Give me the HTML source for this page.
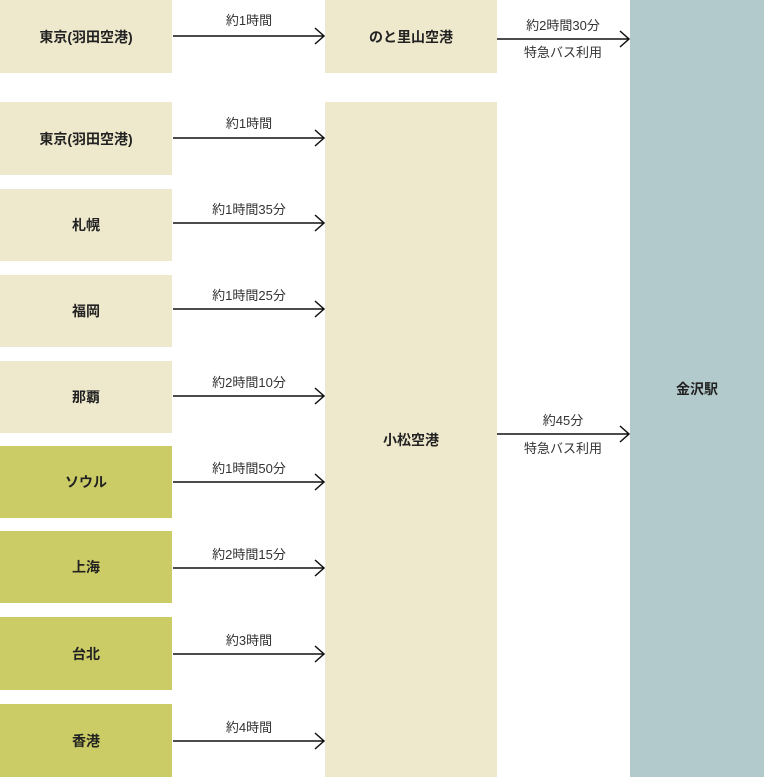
<!DOCTYPE html>
<html><head><meta charset="utf-8"><style>
body{margin:0;width:764px;height:777px;position:relative;background:#fff;font-family:"Liberation Sans","Noto Sans CJK JP",sans-serif;overflow:hidden}
.b{position:absolute;display:flex;align-items:center;justify-content:center;font-weight:bold;font-size:14px;color:#222}
.y{background:#eee8cc}.o{background:#cccc66}.t{background:#b2cacb}
.l{position:absolute;font-size:13px;color:#333;text-align:center;width:152px}
svg{position:absolute;left:0;top:0}
</style></head><body>
<div class="b y" style="left:0;top:0;width:172px;height:73px">東京(羽田空港)</div>
<div class="b y" style="left:325px;top:0;width:172px;height:73px">のと里山空港</div>
<div class="b t" style="left:630px;top:0;width:134px;height:777px">金沢駅</div>
<div class="b y" style="left:325px;top:102px;width:172px;height:675px">小松空港</div>
<div class="b y" style="left:0;top:102px;width:172px;height:73px">東京(羽田空港)</div>
<div class="b y" style="left:0;top:189px;width:172px;height:72px">札幌</div>
<div class="b y" style="left:0;top:275px;width:172px;height:72px">福岡</div>
<div class="b y" style="left:0;top:361px;width:172px;height:72px">那覇</div>
<div class="b o" style="left:0;top:446px;width:172px;height:72px">ソウル</div>
<div class="b o" style="left:0;top:531px;width:172px;height:72px">上海</div>
<div class="b o" style="left:0;top:617px;width:172px;height:73px">台北</div>
<div class="b o" style="left:0;top:704px;width:172px;height:73px">香港</div>
<svg width="764" height="777" fill="none" stroke="#111" stroke-width="1.5">
<path d="M173 36H324M315 28l9 8-9 8"/>
<path d="M173 138H324M315 130l9 8-9 8"/>
<path d="M173 223H324M315 215l9 8-9 8"/>
<path d="M173 309H324M315 301l9 8-9 8"/>
<path d="M173 396H324M315 388l9 8-9 8"/>
<path d="M173 482H324M315 474l9 8-9 8"/>
<path d="M173 568H324M315 560l9 8-9 8"/>
<path d="M173 654H324M315 646l9 8-9 8"/>
<path d="M173 741H324M315 733l9 8-9 8"/>
<path d="M497 39H629M620 31l9 8-9 8"/>
<path d="M497 434H629M620 426l9 8-9 8"/>
</svg>
<div class="l" style="left:173px;top:10px">約1時間</div>
<div class="l" style="left:173px;top:113px">約1時間</div>
<div class="l" style="left:173px;top:199px">約1時間35分</div>
<div class="l" style="left:173px;top:285px">約1時間25分</div>
<div class="l" style="left:173px;top:372px">約2時間10分</div>
<div class="l" style="left:173px;top:458px">約1時間50分</div>
<div class="l" style="left:173px;top:544px">約2時間15分</div>
<div class="l" style="left:173px;top:630px">約3時間</div>
<div class="l" style="left:173px;top:717px">約4時間</div>
<div class="l" style="left:487px;top:15px">約2時間30分</div>
<div class="l" style="left:487px;top:42px">特急バス利用</div>
<div class="l" style="left:487px;top:410px">約45分</div>
<div class="l" style="left:487px;top:438px">特急バス利用</div>
</body></html>
